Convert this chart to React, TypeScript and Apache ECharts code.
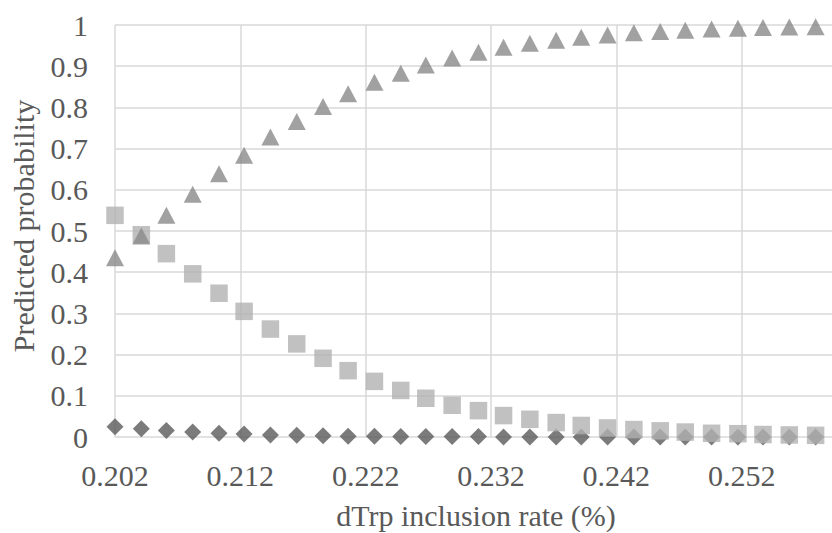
import React, { useEffect, useRef } from "react";
import * as echarts from "echarts";

const xValues = [
  0.2020, 0.2041, 0.2061, 0.2082, 0.2103, 0.2123, 0.2144, 0.2165, 0.2186, 0.2206,
  0.2227, 0.2248, 0.2268, 0.2289, 0.2310, 0.2330, 0.2351, 0.2372, 0.2392, 0.2413,
  0.2434, 0.2455, 0.2475, 0.2496, 0.2517, 0.2537, 0.2558, 0.2579,
];
const diamondValues = [
  0.025, 0.020, 0.016, 0.012, 0.009, 0.007, 0.005, 0.004, 0.003, 0.002,
  0.002, 0.001, 0.001, 0.001, 0.001, 0.000, 0.000, 0.000, 0.000, 0.000,
  0.000, 0.000, 0.000, 0.000, 0.000, 0.000, 0.000, 0.000,
];
const squareValues = [
  0.538, 0.491, 0.445, 0.396, 0.349, 0.305, 0.262, 0.226, 0.191, 0.161,
  0.135, 0.113, 0.094, 0.077, 0.064, 0.052, 0.043, 0.035, 0.028, 0.022,
  0.018, 0.015, 0.012, 0.009, 0.008, 0.006, 0.005, 0.004,
];
const triangleValues = [
  0.435, 0.488, 0.538, 0.589, 0.639, 0.684, 0.728, 0.766, 0.802, 0.833,
  0.861, 0.883, 0.903, 0.920, 0.934, 0.946, 0.956, 0.963, 0.970, 0.976,
  0.981, 0.984, 0.987, 0.990, 0.992, 0.994, 0.995, 0.996,
];
const xTitle = "dTrp inclusion rate (%)";
const yTitle = "Predicted probability";

const FONT = "Liberation Serif, Times New Roman, serif";
const FS = 30;

export default function App() {
  const ref = useRef<HTMLDivElement>(null);
  useEffect(() => {
    document.body.style.margin = "0";
    if (!ref.current) return;
    const chart = echarts.init(ref.current, null, { renderer: "svg" });
    const pts = (ys: number[]) => xValues.map((x, i) => [x, ys[i]]);
    chart.setOption({
      animation: false,
      backgroundColor: "#ffffff",
      textStyle: { fontFamily: FONT },
      grid: {
        left: 115,
        top: 25,
        right: -35,
        bottom: 96,
        containLabel: false,
        outerBoundsMode: "none",
      },
      xAxis: {
        type: "value",
        min: 0.202,
        max: 0.262,
        interval: 0.01,
        axisLine: { show: false },
        axisTick: { show: false },
        splitLine: { show: true, lineStyle: { color: "#d9d9d9", width: 1.5 } },
        axisLabel: {
          color: "#595959",
          fontFamily: FONT,
          fontSize: FS,
          margin: 23,
          showMaxLabel: false,
          formatter: (v: number) => (v > 0.2605 ? "" : v.toFixed(3)),
        },
      },
      yAxis: {
        type: "value",
        min: 0,
        max: 1,
        interval: 0.1,
        axisLine: { show: false },
        axisTick: { show: false },
        splitLine: { show: true, lineStyle: { color: "#d9d9d9", width: 1.5 } },
        axisLabel: {
          color: "#595959",
          fontFamily: FONT,
          fontSize: FS,
          margin: 27,
          padding: [4, 0, 0, 0],
          formatter: (v: number) => (Math.round(v * 10) / 10).toString(),
        },
      },
      graphic: [
        {
          type: "text",
          x: 476,
          y: 515,
          style: {
            text: xTitle,
            fill: "#595959",
            fontFamily: FONT,
            fontSize: FS,
            align: "center",
            verticalAlign: "middle",
          },
        },
        {
          type: "text",
          x: 23,
          y: 226,
          rotation: Math.PI / 2,
          style: {
            text: yTitle,
            fill: "#595959",
            fontFamily: FONT,
            fontSize: FS,
            align: "center",
            verticalAlign: "middle",
          },
        },
      ],
      series: [
        {
          type: "scatter",
          name: "Diamond",
          data: pts(diamondValues),
          symbol: "diamond",
          symbolSize: [17, 17],
          itemStyle: { color: "#5a5a5a" },
          z: 2,
        },
        {
          type: "scatter",
          name: "Square",
          data: pts(squareValues),
          symbol: "rect",
          symbolSize: [17.5, 17.5],
          itemStyle: { color: "#b2b2b2" },
          z: 3,
        },
        {
          type: "scatter",
          name: "Triangle",
          data: pts(triangleValues),
          symbol: "triangle",
          symbolSize: [18, 17],
          itemStyle: { color: "#898989" },
          z: 4,
        },
      ],
    });
    return () => chart.dispose();
  }, []);
  return <div ref={ref} style={{ width: 832, height: 533 }} />;
}
